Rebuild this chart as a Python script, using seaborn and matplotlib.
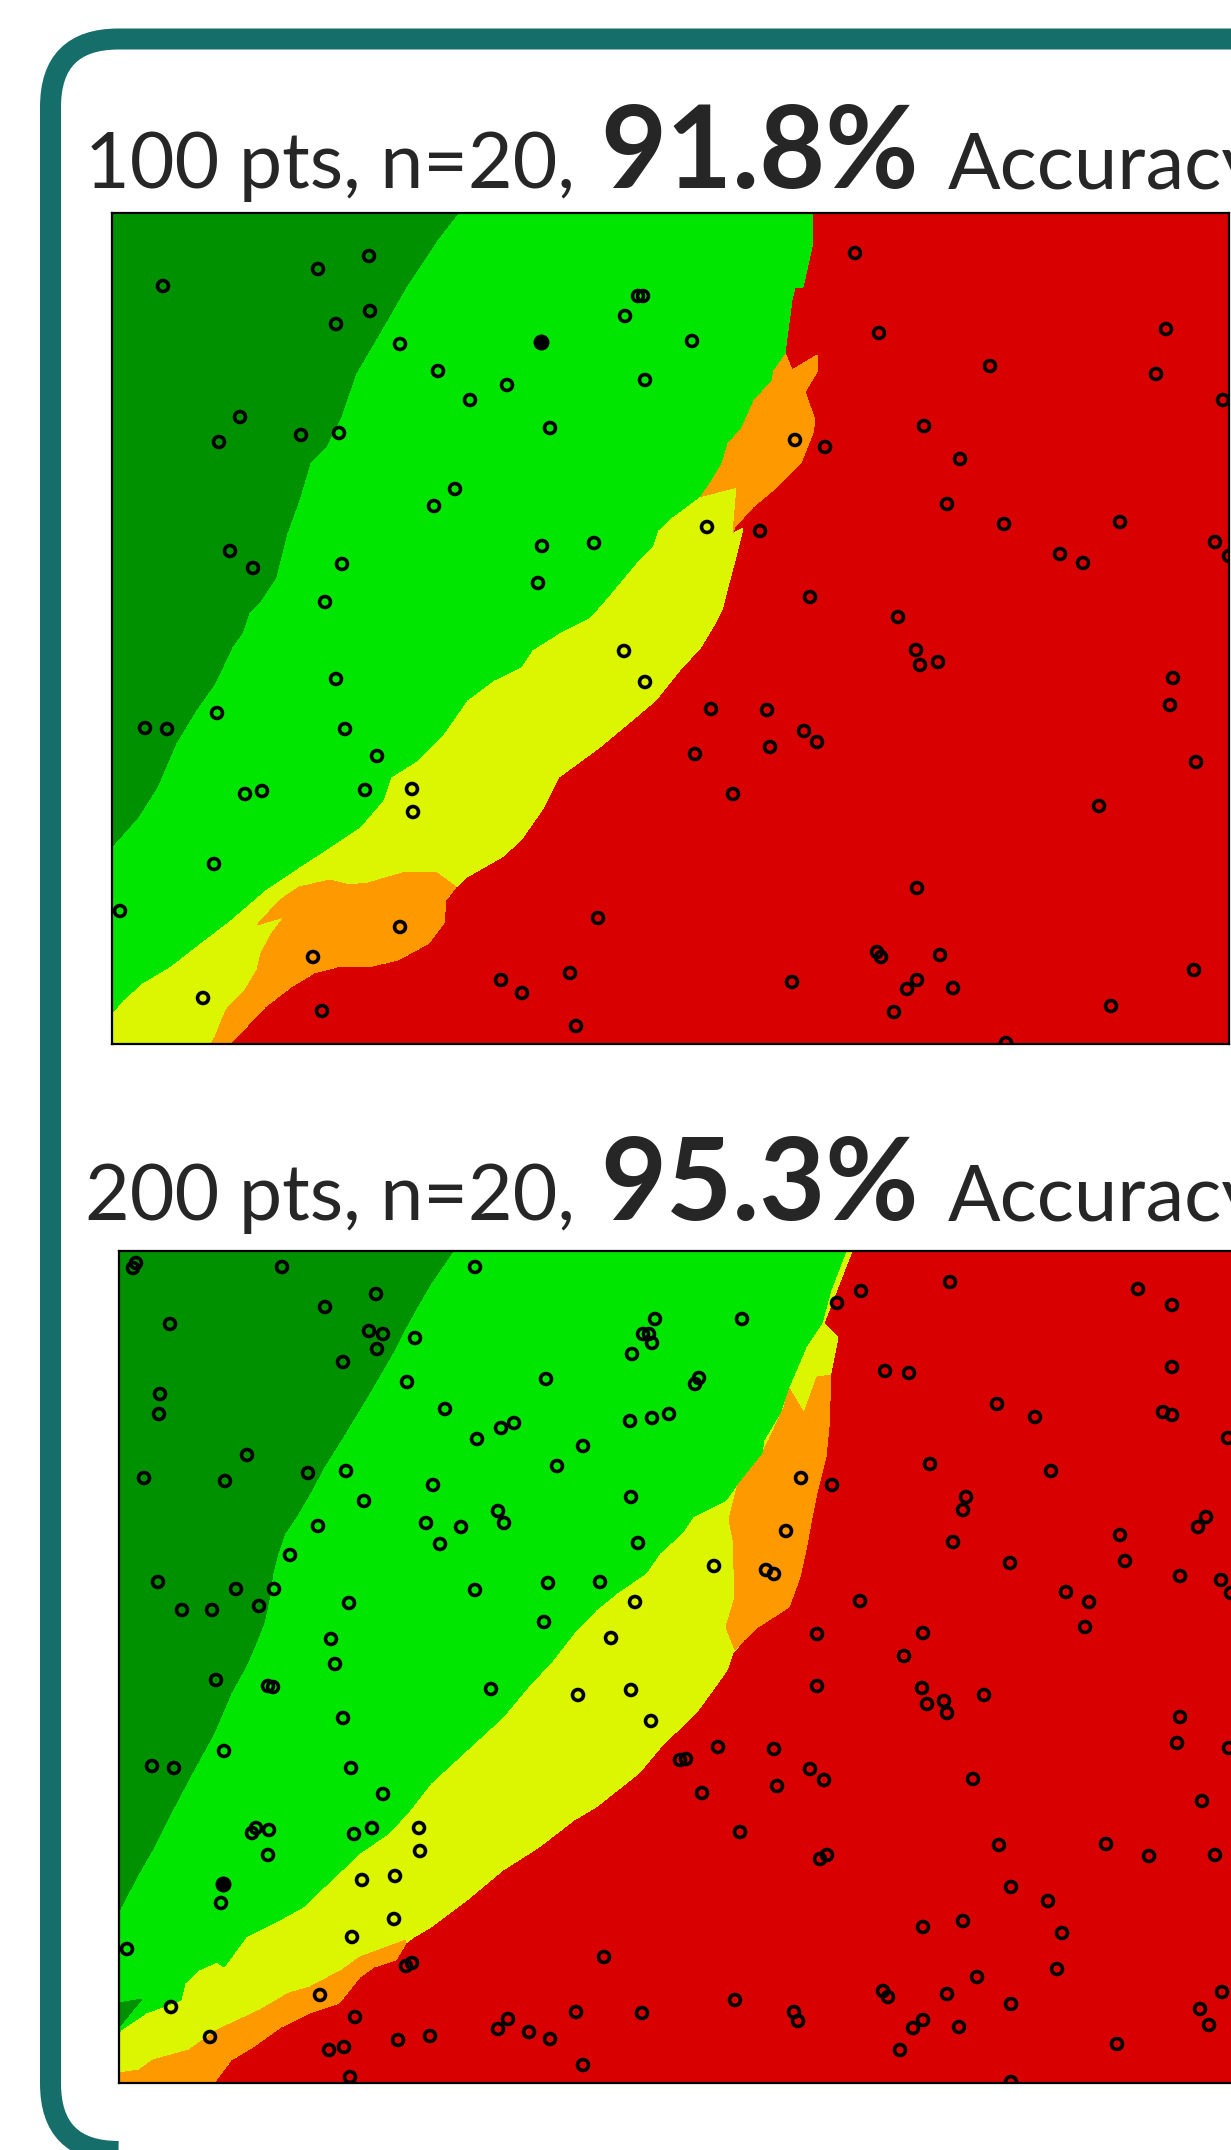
import numpy as np
import matplotlib
matplotlib.use("Agg")
import matplotlib.pyplot as plt
import seaborn as sns
from matplotlib.patches import FancyBboxPatch
from matplotlib.transforms import IdentityTransform

# colours of the class regions
RED = "#D80000"
GREEN = "#00E600"
DARK_GREEN = "#009100"
YELLOW = "#DCF500"
ORANGE = "#FF9900"
TEAL = "#156E69"

# ---------------- panel 1 : 100 pts ----------------
title1 = ("100 pts, n=20,", "91.8%", "Accuracy")

pts1 = [(51, 73), (206, 56), (257, 43), (258, 98), (224, 111), (288, 131),
        (526, 83), (531, 83), (513, 103), (580, 128), (326, 158), (395, 172),
        (358, 187), (533, 167), (438, 215), (128, 204), (107, 229), (189, 222),
        (227, 220), (343, 276), (322, 293), (430, 333), (482, 330), (426, 370),
        (118, 338), (141, 355), (230, 351), (213, 389), (512, 438), (743, 40),
        (767, 120), (1054, 116), (878, 153), (1044, 161), (1111, 187), (812, 213),
        (683, 227), (713, 234), (848, 246), (835, 291), (595, 314), (648, 318),
        (892, 311), (1008, 309), (948, 341), (971, 350), (1103, 329), (1117, 343),
        (698, 384), (786, 404), (804, 437), (533, 469), (224, 466), (105, 500),
        (33, 515), (55, 516), (233, 516), (265, 543), (253, 577), (300, 576),
        (301, 599), (133, 581), (150, 578), (583, 541), (102, 651), (8, 698),
        (288, 714), (201, 744), (91, 785), (210, 798), (486, 705), (389, 767),
        (410, 780), (458, 760), (464, 813), (808, 452), (826, 449), (1061, 465),
        (1058, 492), (599, 496), (655, 497), (692, 518), (705, 529), (658, 534),
        (1084, 549), (621, 581), (987, 593), (805, 675), (765, 739), (769, 744),
        (828, 742), (1082, 757), (680, 769), (805, 767), (795, 776), (841, 775),
        (782, 799), (999, 793), (894, 830)]
query1 = [(429, 129)]

dark_edge1 = [(346, 0), (325, 27), (294, 74), (271, 114), (244, 160), (237, 180),
              (229, 204), (214, 234), (198, 250), (187, 287), (175, 320), (164, 364),
              (149, 387), (137, 400), (130, 420), (120, 434), (103, 470), (84, 497),
              (64, 530), (45, 574), (26, 604), (3, 630), (0, 634), (0, 0)]
green_edge1 = [(701, 0), (700, 34), (691, 74), (683, 75), (680, 87), (677, 110),
               (673, 140), (661, 157), (659, 167), (641, 187), (629, 214), (615, 230),
               (609, 250), (597, 270), (587, 284), (560, 304), (546, 317), (540, 334),
               (524, 350), (504, 374), (493, 387), (478, 404), (447, 420), (420, 437),
               (409, 454), (382, 467), (355, 487), (332, 520), (306, 547), (279, 564),
               (271, 587), (248, 614), (218, 634), (187, 654), (153, 677), (118, 707),
               (88, 730), (57, 754), (30, 770), (11, 787), (0, 800), (0, 0)]
warm_edge1 = [(701, 0), (700, 34), (691, 74), (683, 75), (680, 87), (677, 110),
              (673, 140), (680, 157), (705, 142), (706, 157), (693, 179), (703, 207),
              (701, 220), (689, 250), (665, 274), (641, 294), (623, 314), (621, 320),
              (631, 315), (625, 340), (617, 370), (611, 394), (605, 407), (589, 434),
              (568, 457), (544, 487), (512, 514), (488, 534), (447, 564), (432, 594),
              (409, 627), (390, 644), (355, 664), (344, 674), (334, 687), (332, 710),
              (317, 730), (286, 747), (256, 754), (225, 754), (202, 760), (179, 774),
              (153, 794), (118, 831), (0, 831), (0, 0)]
orange_a1 = [(673, 140), (680, 157), (705, 142), (706, 157), (693, 179), (703, 207),
             (701, 220), (689, 250), (665, 274), (641, 294), (623, 314), (621, 320),
             (625, 274), (587, 284), (597, 270), (609, 250), (615, 230), (629, 214),
             (641, 187), (659, 167), (661, 157)]
orange_b1 = [(344, 674), (325, 660), (294, 659), (256, 670), (237, 672), (218, 667),
             (187, 674), (168, 687), (145, 712), (172, 704), (160, 720), (149, 740),
             (145, 757), (133, 777), (114, 797), (103, 824), (99, 831), (118, 831),
             (153, 794), (179, 774), (202, 760), (225, 754), (256, 754), (286, 747),
             (317, 730), (332, 710), (334, 687)]

# ---------------- panel 2 : 200 pts ----------------
title2 = ("200 pts, n=20,", "95.3%", "Accuracy")

pts2 = [(17, 12), (14, 17), (163, 16), (356, 16), (257, 43), (206, 56), (51, 73),
        (250, 80), (264, 83), (258, 98), (224, 111), (296, 87), (536, 68), (524, 83),
        (530, 83), (533, 92), (513, 103), (288, 131), (427, 128), (41, 143), (40, 163),
        (326, 158), (382, 177), (395, 172), (358, 188), (511, 170), (533, 167),
        (550, 163), (464, 195), (128, 204), (25, 227), (106, 230), (189, 222),
        (227, 220), (438, 215), (314, 234), (245, 250), (512, 246), (379, 260),
        (385, 272), (199, 275), (307, 272), (342, 276), (321, 293), (519, 292),
        (171, 304), (39, 331), (117, 338), (155, 338), (140, 355), (63, 359),
        (93, 359), (230, 352), (356, 339), (429, 332), (481, 331), (425, 371),
        (516, 351), (492, 387), (212, 388), (216, 413),
        (623, 68), (718, 52), (742, 40), (831, 31), (1019, 38), (1053, 54),
        (580, 127), (576, 133), (766, 120), (790, 122), (1053, 116), (878, 153),
        (916, 166), (1044, 161), (1053, 164), (1109, 187), (811, 213), (932, 220),
        (682, 227), (713, 234), (847, 246), (844, 259), (667, 280), (834, 291),
        (1001, 284), (1087, 266), (1079, 276), (595, 315), (647, 319), (655, 323),
        (891, 312), (1006, 310), (1061, 325), (1102, 329), (1112, 342), (741, 350),
        (947, 341), (970, 351), (966, 376), (698, 383), (804, 382), (785, 405),
        (97, 429), (149, 435), (154, 436), (372, 438), (459, 444), (512, 439),
        (532, 470), (224, 467), (105, 500), (33, 515), (55, 517), (232, 517),
        (264, 543), (137, 577), (133, 582), (150, 579), (149, 604), (235, 583),
        (253, 577), (300, 577), (301, 600), (102, 652), (243, 629), (276, 625),
        (275, 668), (233, 686), (8, 698), (287, 715), (293, 712), (485, 706),
        (52, 756), (201, 744), (236, 766), (91, 786), (457, 761), (523, 762),
        (389, 768), (379, 778), (410, 781), (431, 788), (311, 785), (279, 789),
        (210, 799), (225, 796), (464, 814), (231, 826),
        (698, 435), (803, 437), (808, 453), (825, 450), (828, 462), (865, 444),
        (1061, 466), (1058, 492), (1110, 497), (599, 496), (655, 498), (561, 509),
        (567, 508), (691, 518), (705, 529), (658, 535), (583, 542), (854, 528),
        (1083, 550), (621, 581), (701, 608), (708, 604), (880, 594), (987, 593),
        (1030, 605), (1096, 604), (892, 636), (929, 650), (804, 676), (844, 670),
        (943, 682), (858, 726), (938, 718), (616, 749), (675, 761), (679, 770),
        (764, 740), (769, 746), (828, 743), (892, 753), (804, 769), (794, 777),
        (840, 776), (781, 799), (998, 793), (1103, 741), (1081, 758), (1090, 774),
        (892, 831)]
query2 = [(104, 633)]

dark_edge2 = [(334, 0), (323, 16), (312, 32), (298, 56), (287, 76), (277, 96),
              (262, 122), (248, 146), (234, 169), (220, 192), (205, 216), (191, 242),
              (177, 266), (166, 282), (159, 302), (154, 322), (150, 349), (145, 372),
              (134, 399), (127, 415), (112, 442), (95, 482), (73, 522), (55, 556),
              (37, 592), (20, 622), (2, 656), (0, 662), (0, 0)]
dark_patch2 = [(0, 752), (23, 748), (0, 776)]
green_edge2 = [(727, 0), (712, 39), (703, 72), (687, 96), (670, 136), (661, 162),
               (645, 189), (643, 202), (619, 232), (607, 249), (574, 266), (563, 282),
               (541, 302), (527, 322), (498, 342), (477, 359), (455, 382), (434, 409),
               (409, 436), (384, 466), (348, 499), (312, 532), (291, 559), (270, 582),
               (241, 602), (205, 636), (184, 656), (155, 672), (127, 686), (105, 716),
               (98, 711), (80, 719), (66, 732), (62, 749), (27, 762), (2, 779),
               (0, 782), (0, 0)]
warm_edge2 = [(733, 0), (705, 72), (719, 86), (712, 122), (712, 124), (710, 176),
              (707, 206), (698, 242), (692, 272), (687, 299), (681, 326), (670, 356),
              (639, 376), (625, 389), (614, 402), (608, 419), (596, 436), (577, 462),
              (556, 482), (541, 497), (520, 522), (477, 556), (455, 569), (420, 596),
              (384, 619), (348, 649), (312, 676), (295, 686), (287, 692), (277, 709),
              (255, 716), (241, 726), (220, 752), (191, 762), (162, 776), (134, 796),
              (112, 809), (95, 832), (0, 832), (0, 0)]
orange_a2 = [(670, 137), (685, 162), (698, 126), (712, 124), (710, 176), (707, 206),
             (698, 242), (692, 272), (687, 299), (681, 326), (670, 356), (639, 376),
             (625, 389), (616, 399), (607, 376), (616, 346), (614, 289), (610, 269),
             (619, 232), (643, 202), (650, 189), (665, 156)]
orange_b2 = [(287, 689), (241, 706), (223, 719), (191, 736), (170, 742), (141, 759),
             (98, 779), (70, 799), (34, 809), (20, 819), (0, 822), (0, 832), (95, 832),
             (112, 809), (134, 796), (162, 776), (191, 762), (220, 752), (241, 726),
             (255, 716), (277, 709), (287, 692)]

W, H = 1231, 2150
sns.set_style("white")
plt.rcParams["font.family"] = ["Lato", "DejaVu Sans"]

fig = plt.figure(figsize=(W / 100, H / 100), dpi=100)
fig.patch.set_facecolor("white")

# rounded slide frame (pixel coordinates)
frame = FancyBboxPatch((50.5, -1.5), 1400, 2112.5,
                       boxstyle="round,pad=0,rounding_size=68",
                       transform=IdentityTransform(), fill=False,
                       edgecolor=TEAL, linewidth=21 * 0.72, zorder=0)
fig.patches.append(frame)


def fill_region(ax, poly, color):
    xs, ys = zip(*poly)
    ax.fill(xs, ys, color=color, linewidth=0, antialiased=False, zorder=1)


def draw_panel(rect, height, regions, pts, query):
    ax = fig.add_axes(rect)
    ax.set_facecolor(RED)
    for poly, col in regions:
        fill_region(ax, poly, col)
    px, py = zip(*pts)
    sns.scatterplot(x=list(px), y=list(py), ax=ax, s=62, facecolor="none",
                    edgecolor="black", linewidth=2.6, zorder=3, legend=False)
    qx, qy = zip(*query)
    sns.scatterplot(x=list(qx), y=list(qy), ax=ax, s=100, color="black",
                    edgecolor="black", linewidth=1.5, zorder=4, legend=False)
    ax.set_xlim(0, 1117)
    ax.set_ylim(height, 0)
    ax.set_xticks([])
    ax.set_yticks([])
    ax.set_xlabel("")
    ax.set_ylabel("")
    for sp in ax.spines.values():
        sp.set_visible(True)
        sp.set_color("black")
        sp.set_linewidth(1.6)
    return ax


def draw_title(parts, baseline):
    y = 1 - baseline / H
    fig.text(85 / W, y, parts[0], fontsize=55.5, va="baseline", ha="left")
    fig.text(600 / W, y, parts[1], fontsize=82, fontweight="bold", va="baseline", ha="left")
    fig.text(948 / W, y, parts[2], fontsize=56, va="baseline", ha="left")


draw_panel([112 / W, 1 - 1044 / H, 1117 / W, 831 / H], 831,
           [(warm_edge1, YELLOW), (orange_a1, ORANGE), (orange_b1, ORANGE),
            (green_edge1, GREEN), (dark_edge1, DARK_GREEN)],
           pts1, query1)
draw_panel([119 / W, 1 - 2083 / H, 1117 / W, 832 / H], 832,
           [(warm_edge2, YELLOW), (orange_a2, ORANGE), (orange_b2, ORANGE),
            (green_edge2, GREEN), (dark_edge2, DARK_GREEN), (dark_patch2, DARK_GREEN)],
           pts2, query2)

draw_title(title1, 188)
draw_title(title2, 1220)

fig.savefig("out.png", dpi=100, facecolor="white")
